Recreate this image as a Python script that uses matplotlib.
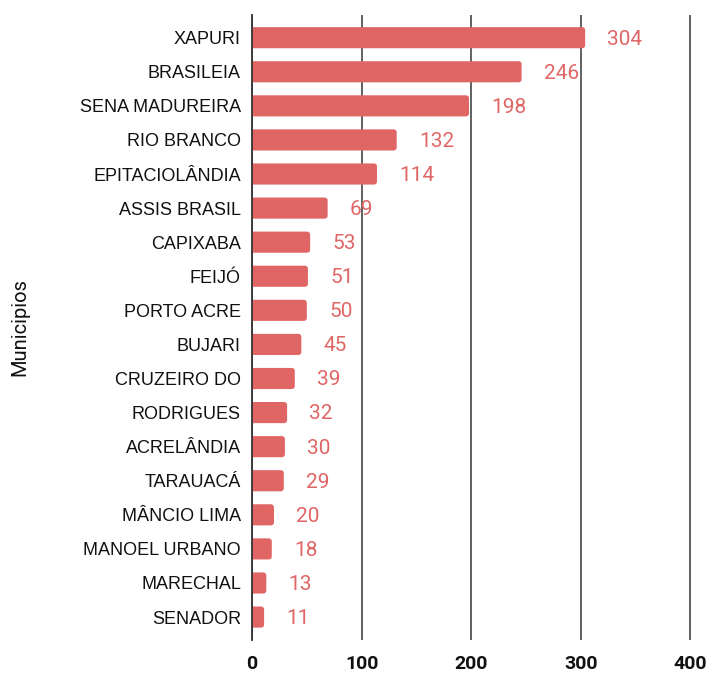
import matplotlib
matplotlib.use("Agg")
import matplotlib.pyplot as plt
from matplotlib.patches import FancyBboxPatch

MUNICIPIOS = [
    "XAPURI", "BRASILEIA", "SENA MADUREIRA", "RIO BRANCO", "EPITACIOLÂNDIA",
    "ASSIS BRASIL", "CAPIXABA", "FEIJÓ", "PORTO ACRE", "BUJARI",
    "CRUZEIRO DO", "RODRIGUES", "ACRELÂNDIA", "TARAUACÁ", "MÂNCIO LIMA",
    "MANOEL URBANO", "MARECHAL", "SENADOR",
]
VALORES = [304, 246, 198, 132, 114, 69, 53, 51, 50, 45, 39, 32, 30, 29, 20, 18, 13, 11]
X_TICKS = [0, 100, 200, 300, 400]

BAR_COLOR = "#E06666"
BAR_H = 0.62

plt.rcParams["font.family"] = ["Roboto", "DejaVu Sans"]

fig = plt.figure(figsize=(7.12, 6.75), dpi=100)
ax = fig.add_axes([0.354, 0.052, 0.631, 0.926])

y = list(range(len(MUNICIPIOS)))
for yi, v in zip(y, VALORES):
    # start left of 0 so the rounded left corners are clipped by the axes
    patch = FancyBboxPatch((-10, yi - BAR_H / 2), v + 10, BAR_H,
                           boxstyle="round,pad=0,rounding_size=3",
                           mutation_aspect=0.03, facecolor=BAR_COLOR,
                           edgecolor="none", linewidth=0, zorder=3)
    ax.add_patch(patch)
    ax.annotate(str(v), (v, yi), xytext=(16, -1), textcoords="offset points",
                va="center", ha="left", fontsize=15, color=BAR_COLOR)

ax.set_xlim(0, 410)
ax.set_ylim(len(MUNICIPIOS) - 0.33, -0.67)
ax.set_xticks(X_TICKS)
ax.set_yticks(y)
ax.set_yticklabels(MUNICIPIOS, fontsize=13, color="#111111",
                   family=["Liberation Sans", "DejaVu Sans"])
ax.tick_params(axis="y", length=0, pad=8)
ax.tick_params(axis="x", length=0, pad=11, labelsize=14)
for lbl in ax.get_xticklabels():
    lbl.set_fontweight("bold")
    lbl.set_color("#111111")

ax.grid(axis="x", color="#555555", linewidth=1.3, zorder=0)
for s in ["top", "right", "bottom"]:
    ax.spines[s].set_visible(False)
ax.spines["left"].set_color("#333333")
ax.spines["left"].set_linewidth(1.3)
ax.spines["left"].set_zorder(4)

ax.set_ylabel("Municipios", fontsize=14.5, color="#111111")
ax.yaxis.set_label_coords(-0.495, 0.5)

fig.savefig("out.png", dpi=100)
